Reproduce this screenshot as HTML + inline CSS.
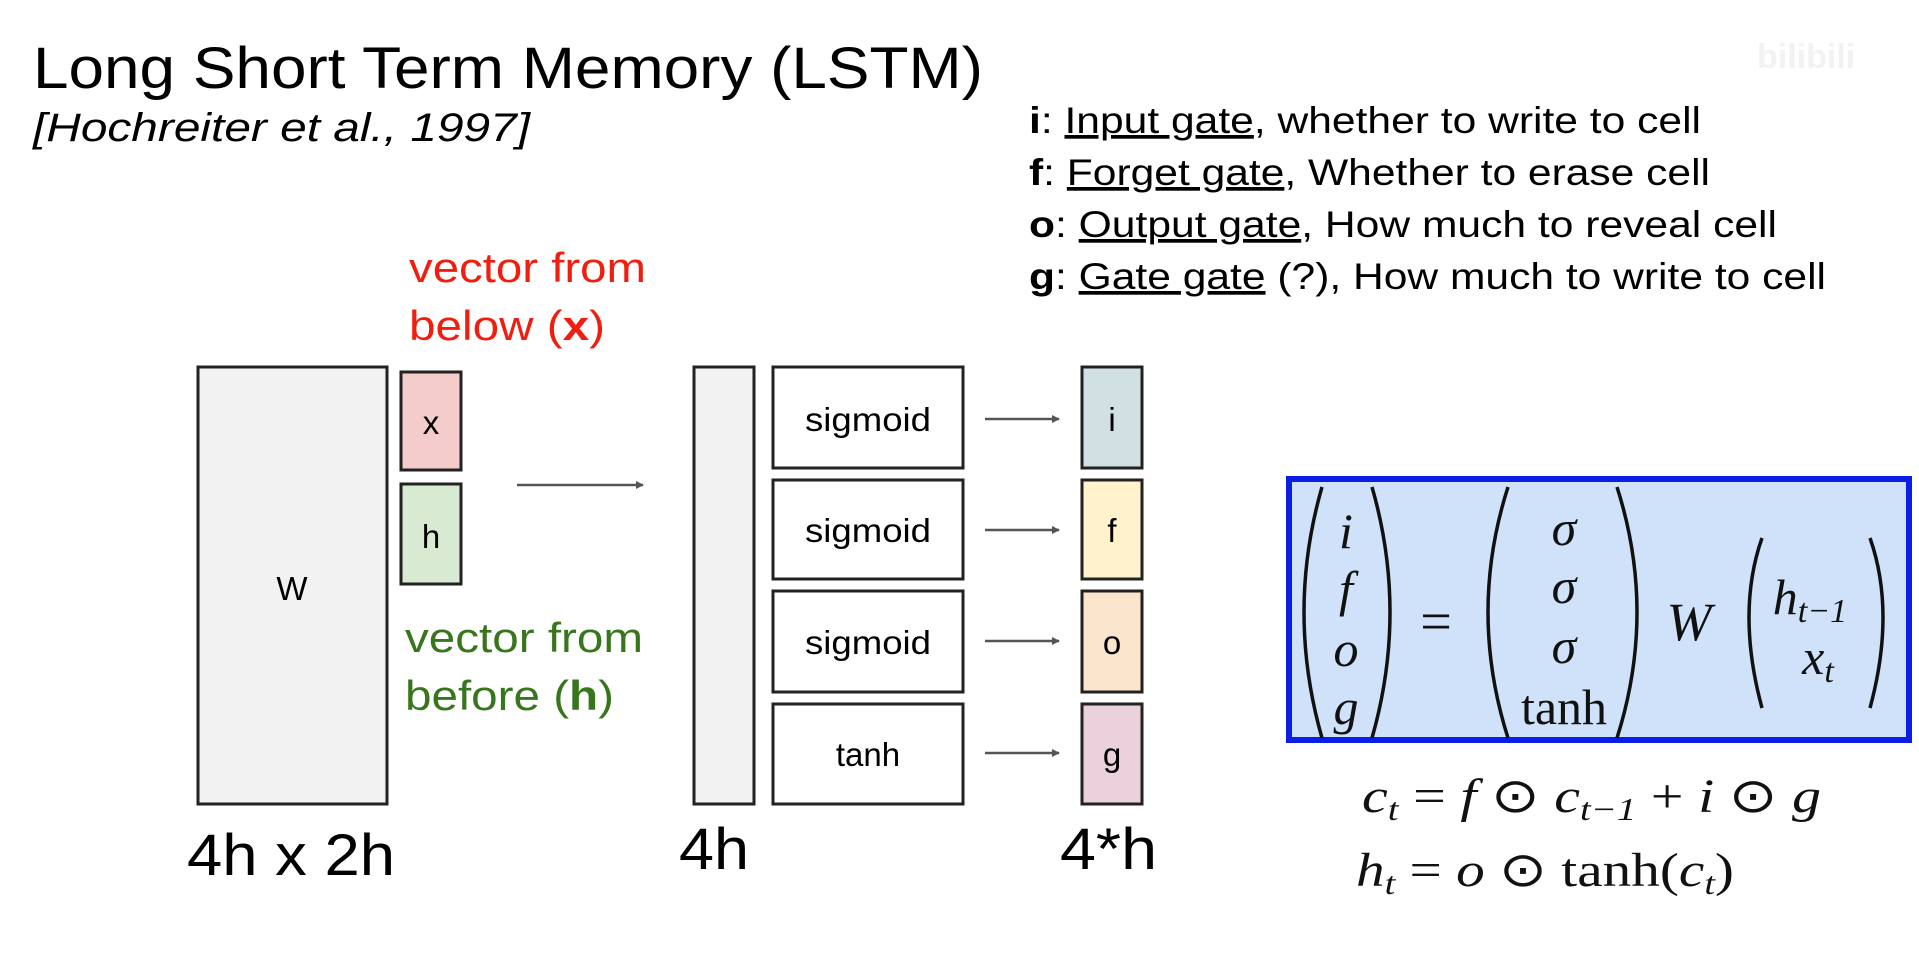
<!DOCTYPE html>
<html><head><meta charset="utf-8"><style>
html,body{margin:0;padding:0;background:#fff;}
svg{display:block}
text{font-family:"Liberation Sans",sans-serif;}
.m{font-family:"Liberation Serif",serif;font-style:italic;}
.r{font-family:"Liberation Serif",serif;font-style:normal;}
</style></head><body>
<svg width="1919" height="958" viewBox="0 0 1919 958" xmlns="http://www.w3.org/2000/svg">
<defs><marker id="ah" markerWidth="8" markerHeight="8" refX="7" refY="4" orient="auto" markerUnits="userSpaceOnUse"><path d="M0,0 L8,4 L0,8z" fill="#555"/></marker></defs>
<text x="33" y="88" font-size="58" textLength="950" lengthAdjust="spacingAndGlyphs" fill="#000">Long Short Term Memory (LSTM)</text>
<text x="33" y="141" font-size="40" font-style="italic" textLength="497" lengthAdjust="spacingAndGlyphs" fill="#000">[Hochreiter et al., 1997]</text>
<text x="1757" y="68" font-size="34" font-weight="bold" fill="#f2f2f2">bilibili</text>

<g font-size="37" fill="#000">
<text x="1029" y="133" textLength="672" lengthAdjust="spacingAndGlyphs"><tspan font-weight="bold">i</tspan>: <tspan text-decoration="underline">Input gate</tspan>, whether to write to cell</text>
<text x="1029" y="185" textLength="681" lengthAdjust="spacingAndGlyphs"><tspan font-weight="bold">f</tspan>: <tspan text-decoration="underline">Forget gate</tspan>, Whether to erase cell</text>
<text x="1029" y="237" textLength="748" lengthAdjust="spacingAndGlyphs"><tspan font-weight="bold">o</tspan>: <tspan text-decoration="underline">Output gate</tspan>, How much to reveal cell</text>
<text x="1029" y="289" textLength="797" lengthAdjust="spacingAndGlyphs"><tspan font-weight="bold">g</tspan>: <tspan text-decoration="underline">Gate gate</tspan> (?), How much to write to cell</text>
</g>

<g font-size="42">
<text x="409" y="282" fill="#f01e0f" textLength="237" lengthAdjust="spacingAndGlyphs">vector from</text>
<text x="409" y="340" fill="#f01e0f" textLength="196" lengthAdjust="spacingAndGlyphs">below (<tspan font-weight="bold">x</tspan>)</text>
<text x="405" y="652" fill="#38761d" textLength="238" lengthAdjust="spacingAndGlyphs">vector from</text>
<text x="405" y="710" fill="#38761d" textLength="209" lengthAdjust="spacingAndGlyphs">before (<tspan font-weight="bold">h</tspan>)</text>
</g>

<g stroke="#222" stroke-width="3">
<rect x="198" y="367" width="189" height="437" fill="#f2f2f2"/>
<rect x="401" y="372" width="60" height="98" fill="#f4cccc"/>
<rect x="401" y="484" width="60" height="100" fill="#d9ead3"/>
<rect x="694" y="367" width="60" height="437" fill="#f2f2f2"/>
<rect x="773" y="367" width="190" height="101" fill="#fff"/>
<rect x="773" y="480" width="190" height="99" fill="#fff"/>
<rect x="773" y="591" width="190" height="101" fill="#fff"/>
<rect x="773" y="704" width="190" height="100" fill="#fff"/>
<rect x="1082" y="367" width="60" height="101" fill="#d0e0e3"/>
<rect x="1082" y="480" width="60" height="99" fill="#fff2cc"/>
<rect x="1082" y="591" width="60" height="101" fill="#fce5cd"/>
<rect x="1082" y="704" width="60" height="100" fill="#ead1dc"/>
</g>
<g stroke="#555" stroke-width="2.5" marker-end="url(#ah)">
<line x1="517" y1="485" x2="643" y2="485"/>
<line x1="985" y1="419" x2="1059" y2="419"/>
<line x1="985" y1="530" x2="1059" y2="530"/>
<line x1="985" y1="641" x2="1059" y2="641"/>
<line x1="985" y1="753" x2="1059" y2="753"/>
</g>
<g font-size="33" fill="#000" text-anchor="middle">
<text x="292" y="600">W</text>
<text x="431" y="434">x</text>
<text x="431" y="548">h</text>
<text x="868" y="431" textLength="126" lengthAdjust="spacingAndGlyphs">sigmoid</text>
<text x="868" y="542" textLength="126" lengthAdjust="spacingAndGlyphs">sigmoid</text>
<text x="868" y="654" textLength="126" lengthAdjust="spacingAndGlyphs">sigmoid</text>
<text x="868" y="766">tanh</text>
<text x="1112" y="431">i</text>
<text x="1112" y="542">f</text>
<text x="1112" y="654">o</text>
<text x="1112" y="766">g</text>
</g>
<g font-size="58" fill="#000">
<text x="187" y="875" textLength="208" lengthAdjust="spacingAndGlyphs">4h x 2h</text>
<text x="679" y="869" textLength="70" lengthAdjust="spacingAndGlyphs">4h</text>
<text x="1060" y="869" textLength="97" lengthAdjust="spacingAndGlyphs">4*h</text>
</g>

<rect x="1289" y="479" width="620" height="261" fill="#cfe2f9" stroke="#0a1ee6" stroke-width="6"/>
<g fill="none" stroke="#111" stroke-width="3.5">
<path d="M1322,487 Q1286,612 1322,738"/>
<path d="M1372,487 Q1408,612 1372,738"/>
<path d="M1508,487 Q1468,612 1508,738"/>
<path d="M1617,487 Q1657,612 1617,738"/>
<path d="M1762,538 Q1736,612 1762,708"/>
<path d="M1870,538 Q1896,612 1870,708"/>
</g>
<g font-size="50" fill="#111" text-anchor="middle">
<text class="m" x="1346" y="548">i</text>
<text class="m" x="1346" y="606">f</text>
<text class="m" x="1346" y="666">o</text>
<text class="m" x="1346" y="724">g</text>
<text class="r" x="1436" y="640" font-size="56">=</text>
<text class="m" x="1564" y="545">σ</text>
<text class="m" x="1564" y="603">σ</text>
<text class="m" x="1564" y="663">σ</text>
<text class="r" x="1564" y="724">tanh</text>
<text class="m" x="1689" y="640" font-size="54">W</text>
<text class="m" x="1810" y="614">h<tspan font-size="34" dy="8">t−1</tspan></text>
<text class="m" x="1818" y="674">x<tspan font-size="34" dy="8">t</tspan></text>
</g>
<g font-size="48" fill="#111">
<text class="m" x="1362" y="812" textLength="459" lengthAdjust="spacingAndGlyphs">c<tspan font-size="32" dy="8">t</tspan><tspan class="r" dy="-8"> = </tspan>f<tspan class="r"> ⊙ </tspan>c<tspan font-size="32" dy="8">t−1</tspan><tspan class="r" dy="-8"> + </tspan>i<tspan class="r"> ⊙ </tspan>g</text>
<text class="m" x="1356" y="886" textLength="378" lengthAdjust="spacingAndGlyphs">h<tspan font-size="32" dy="8">t</tspan><tspan class="r" dy="-8"> = </tspan>o<tspan class="r"> ⊙ tanh(</tspan>c<tspan font-size="32" dy="8">t</tspan><tspan class="r" dy="-8">)</tspan></text>
</g>
</svg>
</body></html>
